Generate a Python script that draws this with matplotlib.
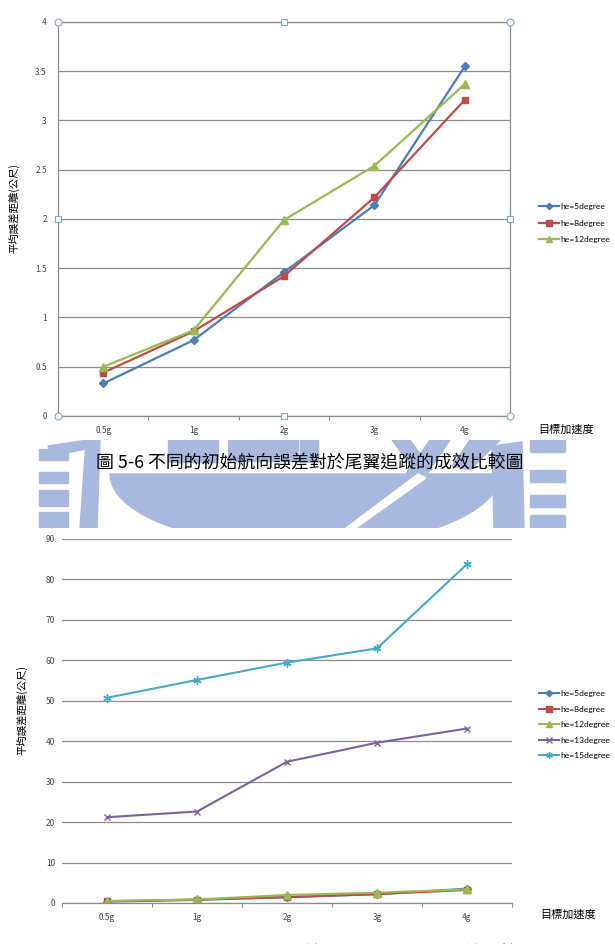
import numpy as np
import matplotlib.pyplot as plt
from matplotlib.patches import Polygon, Rectangle

plt.rcParams['font.family'] = ['Noto Sans CJK TC', 'DejaVu Sans']

# datos
categorias = ['0.5g', '1g', '2g', '3g', '4g']
he5 = [0.33, 0.77, 1.46, 2.14, 3.55]
he8 = [0.44, 0.86, 1.42, 2.22, 3.21]
he12 = [0.50, 0.87, 1.99, 2.54, 3.37]
he13 = [21.2, 22.6, 34.9, 39.6, 43.1]
he15 = [50.7, 55.1, 59.4, 62.9, 83.7]

etiquetas1 = ['he=5degree', 'he=8degree', 'he=12degree']
etiquetas2 = ['he=5degree', 'he=8degree', 'he=12degree', 'he=13degree', 'he=15degree']
titulo1 = '圖 5-6 不同的初始航向誤差對於尾翼追蹤的成效比較圖'
titulo2 = '圖 5-7 不同的初始航向誤差對於尾翼追蹤的成效比較圖'

colores = ['#4A7EBB', '#BE4B48', '#98B954', '#7D60A0', '#46AAC5']
marcadores = ['D', 's', '^', 'x', (6, 2, 0)]
tamanos = [4, 5, 5.5, 5, 6]

W, H = 615, 944
fig = plt.figure(figsize=(W / 100, H / 100), dpi=100)


def caja(x0, y0, x1, y1):
    # pixeles -> fraccion de figura
    return [x0 / W, 1 - y1 / H, (x1 - x0) / W, (y1 - y0) / H]


# marca de agua (logo azul claro) en la franja entre graficos
wm = fig.add_axes(caja(0, 440, W, 528), zorder=0)
wm.set_xlim(0, W)
wm.set_ylim(528, 440)
wm.axis('off')
azul = '#A9B8DE'
for y0, y1 in [(449, 460), (472, 483), (490, 506), (512, 528)]:
    wm.add_patch(Rectangle((39, y0), 29, y1 - y0, color=azul))
wm.add_patch(Polygon([(48, 446), (88, 440), (90, 448), (52, 456)], color=azul))
wm.add_patch(Polygon([(86, 440), (100, 440), (97, 528), (80, 528)], color=azul))
t = np.linspace(0, np.pi, 60)
cuenco = np.column_stack([305 + 195 * np.cos(t), 474 + 73 * np.sin(t)])
wm.add_patch(Polygon(cuenco, color=azul))
wm.add_patch(Rectangle((168, 440), 50, 22, color=azul))
wm.add_patch(Rectangle((228, 440), 70, 21, color=azul))
wm.add_patch(Polygon([(300, 440), (318, 440), (318, 462), (300, 462)], color=azul))
wm.add_patch(Polygon([(392, 440), (410, 440), (432, 470), (414, 470)], color=azul))
wm.add_patch(Polygon([(430, 440), (450, 440), (390, 528), (368, 528)], color=azul))
wm.add_patch(Polygon([(418, 474), (426, 478), (356, 528), (346, 528)], color='white'))
wm.add_patch(Polygon([(470, 440), (500, 440), (470, 470), (452, 466)], color=azul))
wm.add_patch(Polygon([(492, 446), (522, 442), (524, 528), (494, 528)], color=azul))
for y0, y1 in [(440, 452), (470, 482), (495, 507), (515, 528)]:
    wm.add_patch(Rectangle((530, y0), 35, y1 - y0, color=azul))


def estilo(ax, ymax, paso):
    ax.set_xlim(-0.5, 4.5)
    ax.set_ylim(0, ymax)
    ax.set_yticks(np.arange(0, ymax + paso / 2, paso))
    ax.set_xticks(np.arange(-0.5, 4.6, 1.0))
    ax.set_xticklabels([])
    ax.set_xticks(range(5), minor=True)
    ax.set_xticklabels(categorias, minor=True)
    ax.tick_params(axis='x', which='major', length=3, color='#8C8C8C', width=0.8, direction='out')
    ax.tick_params(axis='x', which='minor', length=0, pad=7, labelsize=6, labelcolor='#444444')
    ax.tick_params(axis='y', length=0, labelsize=6, labelcolor='#444444')
    ax.grid(axis='y', color='#8C8C8C', linewidth=0.9)
    ax.set_axisbelow(True)
    for s in ax.spines.values():
        s.set_color('#8C8C8C')
        s.set_linewidth(0.9)


x = np.arange(len(categorias))
fuente_leyenda = {'family': 'Lato', 'size': 6.1}

# grafico 1
ax1 = fig.add_axes(caja(58, 22, 510, 416), zorder=2)
for i, serie in enumerate([he5, he8, he12]):
    ax1.plot(x, serie, color=colores[i], marker=marcadores[i], markersize=tamanos[i],
             linewidth=1.6, label=etiquetas1[i])
estilo(ax1, 4, 0.5)
ax1.tick_params(axis='y', pad=8)
ax1.set_yticklabels(['0', '0.5', '1', '1.5', '2', '2.5', '3', '3.5', '4'])
# manijas de seleccion del marco
for (hx, hy, m) in [(-0.5, 0, 'o'), (4.5, 0, 'o'), (-0.5, 4, 'o'), (4.5, 4, 'o'),
                    (2, 4, 's'), (2, 0, 's'), (-0.5, 2, 's'), (4.5, 2, 's')]:
    ax1.plot(hx, hy, marker=m, markersize=5 if m == 'o' else 4, markerfacecolor='white',
             markeredgecolor='#80A8C8', markeredgewidth=0.8, clip_on=False, zorder=5)
fig.legend(handles=ax1.get_lines()[:3], labels=etiquetas1, loc='upper left',
           bbox_to_anchor=(536 / W, 1 - 200 / H), frameon=False, prop=fuente_leyenda,
           handlelength=2.3, labelspacing=1.1, handletextpad=0.15, borderaxespad=0,
           markerscale=0.8)
fig.text(14 / W, 1 - 208 / H, '平均誤差距離(公尺)', rotation=90, ha='center', va='center', fontsize=7.5)
fig.text(538 / W, 1 - 430 / H, '目標加速度', ha='left', va='center', fontsize=8)

# grafico 2
ax2 = fig.add_axes(caja(62, 538.7, 512, 903), zorder=2)
for i, serie in enumerate([he5, he8, he12, he13, he15]):
    ax2.plot(x, serie, color=colores[i], marker=marcadores[i], markersize=tamanos[i],
             linewidth=1.5, label=etiquetas2[i])
estilo(ax2, 90, 10)
ax2.tick_params(axis='y', pad=5)
ax2.spines['top'].set_visible(False)
ax2.spines['right'].set_visible(False)
ax2.spines['left'].set_visible(False)
fig.legend(handles=ax2.get_lines(), labels=etiquetas2, loc='upper left',
           bbox_to_anchor=(536 / W, 1 - 687 / H), frameon=False, prop=fuente_leyenda,
           handlelength=2.3, labelspacing=1.0, handletextpad=0.15, borderaxespad=0,
           markerscale=0.8)
fig.text(22 / W, 1 - 710 / H, '平均誤差距離(公尺)', rotation=90, ha='center', va='center', fontsize=7.5)
fig.text(540 / W, 1 - 915 / H, '目標加速度', ha='left', va='center', fontsize=8)

# leyendas de figura
fig.text(310 / W, 1 - 463 / H, titulo1, ha='center', va='center', fontsize=12.9, zorder=3)
fig.text(322 / W, 1 - 945 / H, titulo2, ha='center', va='top', fontsize=12.9, zorder=3)

fig.savefig('out.png', dpi=100)
